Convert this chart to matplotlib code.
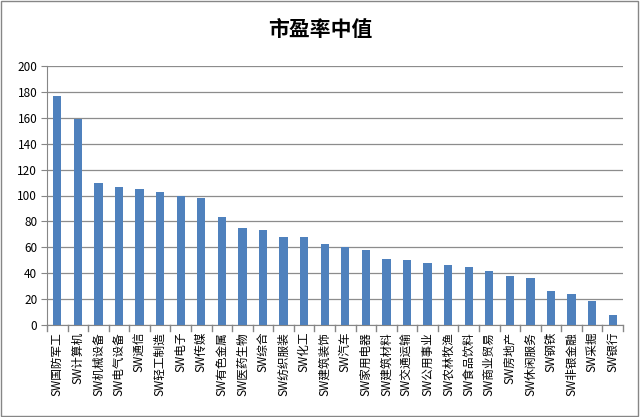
import matplotlib
matplotlib.use("Agg")
import matplotlib.pyplot as plt
from matplotlib.patches import Rectangle
import numpy as np

plt.rcParams["font.family"] = ["Noto Sans CJK SC", "DejaVu Sans"]

#median p/e by sector
sectors = ["SW国防军工", "SW计算机", "SW机械设备", "SW电气设备", "SW通信",
           "SW轻工制造", "SW电子", "SW传媒", "SW有色金属", "SW医药生物",
           "SW综合", "SW纺织服装", "SW化工", "SW建筑装饰", "SW汽车",
           "SW家用电器", "SW建筑材料", "SW交通运输", "SW公用事业", "SW农林牧渔",
           "SW食品饮料", "SW商业贸易", "SW房地产", "SW休闲服务", "SW钢铁",
           "SW非银金融", "SW采掘", "SW银行"]
pe_median = [176.7, 158.9, 109.6, 106.5, 105.0, 102.7, 100.0, 98.0, 83.4, 75.0,
             73.4, 68.0, 68.0, 62.9, 59.9, 58.1, 51.2, 50.4, 48.1, 46.6,
             45.0, 41.9, 38.1, 36.5, 26.5, 24.2, 18.8, 8.0]
yticks = list(range(0, 201, 20))

fig = plt.figure(figsize=(6.4, 4.17), dpi=100)
ax = fig.add_axes([47 / 640, 1 - 325 / 417, (623 - 47) / 640, (325 - 66) / 417])

x = np.arange(len(sectors))
ax.bar(x, pe_median, width=0.4, color="#4F81BD", zorder=3)

ax.set_xlim(-0.5, len(sectors) - 0.5)
ax.set_ylim(0, 200)
ax.set_yticks(yticks)
ax.set_yticklabels([str(v) for v in yticks], fontsize=8.5)
ax.yaxis.grid(True, color="#8c8c8c", lw=0.9, zorder=0)
ax.tick_params(axis="y", length=4, color="#868686", direction="out", pad=3)

#category labels sit at centres, tick marks between categories
ax.set_xticks(x)
ax.set_xticklabels(sectors, rotation=90, fontsize=8.4, va="top", ha="center")
ax.tick_params(axis="x", length=0, pad=5)
for b in np.arange(-0.5, len(sectors), 1.0):
    ax.plot([b, b], [0, -0.025], transform=ax.get_xaxis_transform(),
            color="#868686", lw=1.0, clip_on=False)

for side in ("top", "right"):
    ax.spines[side].set_visible(False)
ax.spines["left"].set_color("#868686")
ax.spines["bottom"].set_color("#868686")

fig.text(0.5, 1 - 30 / 417, "市盈率中值", ha="center", va="center",
         fontsize=15, fontweight="bold")

fig.patches.append(Rectangle((0.002, 0.003), 0.995, 0.994, transform=fig.transFigure,
                             fill=False, edgecolor="#868686", lw=1.0))

fig.savefig("out.png", dpi=100)
